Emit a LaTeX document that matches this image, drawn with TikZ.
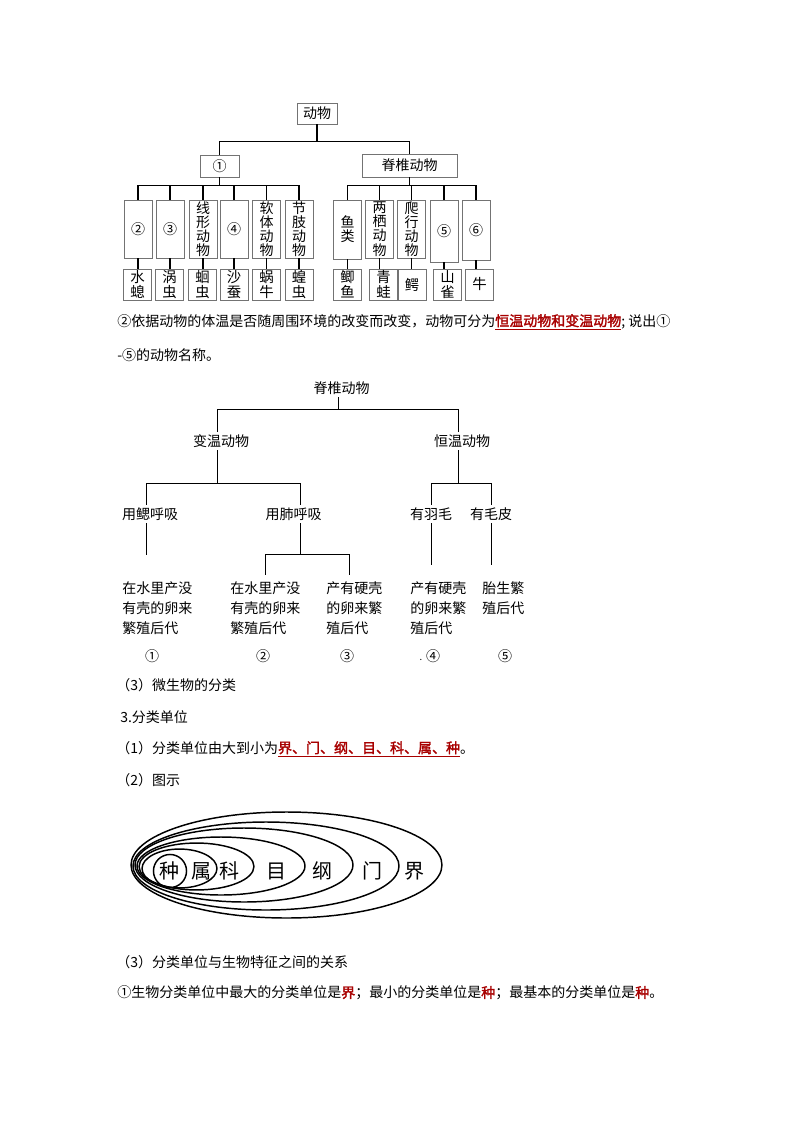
\documentclass[tikz,border=0pt]{standalone}
\usepackage{fontspec}
\setmainfont{Noto Sans CJK SC}[AutoFakeBold=2]
\definecolor{ansred}{HTML}{A80000}
\begin{document}
\begin{tikzpicture}[x=0.75pt,y=-0.75pt,
  tl/.style={line width=1.3pt, black},
  sl/.style={line width=0.75pt, black},
  tbox/.style={draw=black!55, line width=0.6pt, inner sep=0pt, minimum width=21pt, align=center, font=\fontsize{10.5}{10.6}\selectfont},
  bbox/.style={tbox, minimum height=23.25pt, font=\fontsize{10.8}{11.2}\selectfont},
  txt/.style={anchor=west, inner sep=0pt, font=\fontsize{10.5}{12}\selectfont},
  lbl/.style={inner sep=2pt, font=\fontsize{10.5}{12}\selectfont},
  blk/.style={anchor=north west, inner xsep=0pt, inner ysep=4.5pt, align=left, font=\fontsize{10.5}{15}\selectfont},
  ell/.style={line width=1.1pt, black},
  rank/.style={inner sep=0pt, font=\fontsize{15}{15}\selectfont}
]
\fill[white] (0,0) rectangle (794,1123);
\useasboundingbox (0,0) rectangle (794,1123);

% ---------- tree 1 ----------
\node[tbox, minimum width=30pt, minimum height=15.75pt] (dw) at (317,113.5) {动物};
\node[tbox, minimum width=29.25pt, minimum height=16.5pt] (c1) at (219.5,166) {①};
\node[tbox, minimum width=71.25pt, minimum height=17.25pt] (jz) at (409.5,165.5) {脊椎动物};

\node[tbox, minimum height=43.5pt] (a1) at (138,229) {②};
\node[tbox, minimum height=43.5pt] (a2) at (170,229) {③};
\node[tbox, minimum height=43.5pt] (a3) at (203,229) {线\\形\\动\\物};
\node[tbox, minimum height=43.5pt] (a4) at (234,229) {④};
\node[tbox, minimum height=43.5pt] (a5) at (266.5,229) {软\\体\\动\\物};
\node[tbox, minimum height=43.5pt] (a6) at (299,229) {节\\肢\\动\\物};

\node[tbox, minimum height=44.25pt] (r1) at (347.5,229.5) {鱼\\类};
\node[tbox, minimum height=43.5pt] (r2) at (379.5,229) {两\\栖\\动\\物};
\node[tbox, minimum height=43.5pt] (r3) at (411.5,229) {爬\\行\\动\\物};
\node[tbox, minimum height=46.5pt] (r4) at (444,231) {⑤};
\node[tbox, minimum height=45pt] (r5) at (476,230) {⑥};

\node[bbox] (b1) at (137.5,284.5) {水\\螅};
\node[bbox] (b2) at (169.5,284.5) {涡\\虫};
\node[bbox] (b3) at (202.5,284.5) {蛔\\虫};
\node[bbox] (b4) at (234,284.5) {沙\\蚕};
\node[bbox] (b5) at (266.5,284.5) {蜗\\牛};
\node[bbox] (b6) at (299,284.5) {蝗\\虫};
\node[bbox] (s1) at (347.5,284.5) {鲫\\鱼};
\node[bbox] (s2) at (383.5,284.5) {青\\蛙};
\node[bbox] (s3) at (412,284.5) {鳄};
\node[bbox] (s4) at (447.5,284.5) {山\\雀};
\node[bbox] (s5) at (479.5,284.5) {牛};

\draw[tl] (dw.south) -- ++(0,17) -| (c1.north);
\draw[tl] (dw.south) -- ++(0,17) -| (jz.north);
\foreach \k in {a1,a2,a3,a4,a5,a6}{\draw[tl] (c1.south) -- ++(0,8) -| (\k.north);}
\foreach \k in {r1,r2,r3,r4,r5}{\draw[tl] (jz.south) -- ++(0,8) -| (\k.north);}
\foreach \u/\v in {a1/b1,a2/b2,a3/b3,a4/b4,a5/b5,a6/b6,r1/s1,r2/s2,r3/s3,r4/s4,r5/s5}{\draw[tl] (\u.south) -- (\u.south |- \v.north);}

% ---------- text ----------
\node[txt] (p1) at (117,322) {②依据动物的体温是否随周围环境的改变而改变，动物可分为\textcolor{ansred}{\underline{\textbf{恒温动物和变温动物}}}; 说出①};
\node[txt] (p2) at (117,355) {-⑤的动物名称。};

% ---------- tree 2 ----------
\node[lbl] (t0) at (341.5,388) {脊椎动物};
\node[lbl] (bw) at (221,441) {变温动物};
\node[lbl] (hw) at (462,441) {恒温动物};
\node[lbl] (ys) at (150,514) {用鳃呼吸};
\node[lbl] (yf) at (293.5,514) {用肺呼吸};
\node[lbl] (yy) at (431,514) {有羽毛};
\node[lbl] (ym) at (491,514) {有毛皮};

\node[blk] (k1) at (122,575) {在水里产没\\有壳的卵来\\繁殖后代};
\node[blk] (k2) at (230,575) {在水里产没\\有壳的卵来\\繁殖后代};
\node[blk] (k3) at (326,575) {产有硬壳\\的卵来繁\\殖后代};
\node[blk] (k4) at (410,575) {产有硬壳\\的卵来繁\\殖后代};
\node[blk] (k5) at (482,575) {胎生繁\\殖后代};

\node[lbl] (n1) at (152,656) {①};
\node[lbl] (n2) at (263,656) {②};
\node[lbl] (n3) at (347,656) {③};
\node[lbl, font=\fontsize{7}{8}\selectfont] (nd) at (421,660) {.};
\node[lbl] (n4) at (433,656) {④};
\node[lbl] (n5) at (505,656) {⑤};

\draw[sl] ([xshift=-2.6pt]t0.south) -- ++(0,12) -| ([xshift=-3pt]bw.north);
\draw[sl] ([xshift=-2.6pt]t0.south) -- ++(0,12) -| ([xshift=-3pt]hw.north);
\draw[sl] ([xshift=-3pt]bw.south) -- ++(0,33) -| ([xshift=-3pt]ys.north);
\draw[sl] ([xshift=-3pt]bw.south) -- ++(0,33) -| ([xshift=5.6pt]yf.north);
\draw[sl] ([xshift=-3pt]hw.south) -- ++(0,33) -| (yy.north);
\draw[sl] ([xshift=-3pt]hw.south) -- ++(0,33) -| (ym.north);
\draw[sl, shorten >=7.5pt] ([xshift=-3pt]ys.south) -- ++(0,41.5);
\draw[sl] ([xshift=5.6pt]yf.south) -- ++(0,31) -| (k2.north);
\draw[sl] ([xshift=5.6pt]yf.south) -- ++(0,31) -| ([xshift=-3.75pt]k3.north);
\draw[sl, shorten >=7.5pt] (yy.south) -- (yy.south |- k4.north);
\draw[sl, shorten >=7.5pt] (ym.south) -- (ym.south |- k5.north);

% ---------- text ----------
\node[txt] (p3) at (116,685) {（3）微生物的分类};
\node[txt] (p4) at (120,717) {3.分类单位};
\node[txt] (p5) at (116,749) {（1）分类单位由大到小为\textcolor{ansred}{\underline{\textbf{界、门、纲、目、科、属、种}}}。};
\node[txt] (p6) at (116,780) {（2）图示};

% ---------- ellipses ----------
\draw[ell] (286.5,865) ellipse [x radius=116.6pt, y radius=39.75pt];
\draw[ell] (266,866) ellipse [x radius=99.75pt, y radius=33pt];
\draw[ell] (244,865) ellipse [x radius=81.75pt, y radius=27.75pt];
\draw[ell] (221,866) ellipse [x radius=63pt, y radius=21.75pt];
\draw[ell] (196.5,866.5) ellipse [x radius=43.1pt, y radius=17.6pt];
\draw[ell] (179.5,868.5) ellipse [x radius=28.1pt, y radius=14.6pt];
\draw[ell] (170,871) circle [radius=12.4pt];
\node[rank] (z1) at (169,871) {种};
\node[rank] (z2) at (201,871) {属};
\node[rank] (z3) at (229,871) {科};
\node[rank] (z4) at (276,871) {目};
\node[rank] (z5) at (322,871) {纲};
\node[rank] (z6) at (372,871) {门};
\node[rank] (z7) at (414,871) {界};

% ---------- text ----------
\node[txt] (p7) at (116,962) {（3）分类单位与生物特征之间的关系};
\node[txt] (p8) at (117,993) {①生物分类单位中最大的分类单位是\textcolor{ansred}{\textbf{界}}；最小的分类单位是\textcolor{ansred}{\textbf{种}}；最基本的分类单位是\textcolor{ansred}{\textbf{种}}。};
\end{tikzpicture}
\end{document}
